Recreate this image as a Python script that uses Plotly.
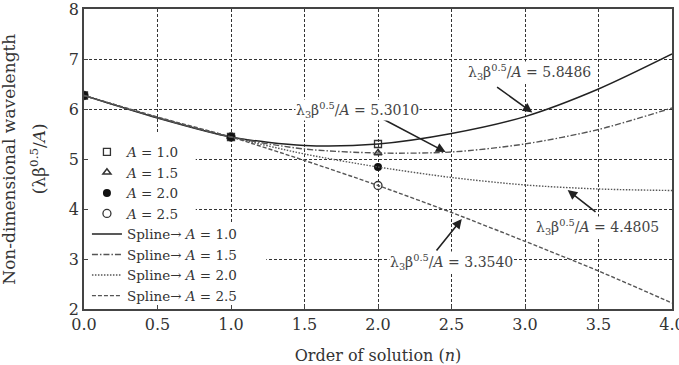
import plotly.graph_objects as go

# ---- data ----
n_pts = [0.0, 1.0, 2.0]
pts_A10 = [6.27, 5.44, 5.30]
pts_A15 = [6.27, 5.44, 5.12]
pts_A20 = [6.27, 5.44, 4.84]
pts_A25 = [6.27, 5.44, 4.47]

n_spl = [0.0, 0.5, 1.0, 1.5, 2.0, 2.5, 3.0, 3.5, 4.0]
spl_A10 = [6.27, 5.82, 5.44, 5.27, 5.30, 5.51, 5.8486, 6.40, 7.10]
spl_A15 = [6.27, 5.83, 5.44, 5.20, 5.12, 5.14, 5.3010, 5.59, 6.02]
spl_A20 = [6.27, 5.83, 5.44, 5.10, 4.84, 4.63, 4.4805, 4.40, 4.37]
spl_A25 = [6.27, 5.84, 5.44, 4.97, 4.47, 3.93, 3.3540, 2.76, 2.12]

x_ticks = [0.0, 0.5, 1.0, 1.5, 2.0, 2.5, 3.0, 3.5, 4.0]
x_ticklabels = ["0.0", "0.5", "1.0", "1.5", "2.0", "2.5", "3.0", "3.5", "4.0"]
y_ticks = [2, 3, 4, 5, 6, 7, 8]

# annotations: (label, text_x, text_y, tail_x, tail_y, head_x, head_y)
notes = [
    ("5.8486", 3.03, 6.74, 2.80, 6.46, 3.05, 5.93),
    ("5.3010", 1.86, 5.98, 2.02, 5.82, 2.46, 5.14),
    ("4.4805", 3.49, 3.64, 3.49, 3.92, 3.29, 4.38),
    ("3.3540", 2.50, 2.94, 2.39, 3.14, 2.57, 3.80),
]

FONT = "DejaVu Serif"
INK = "#333333"

fig = go.Figure()

def lab(a):
    return "<i>A</i> = " + a

fig.add_trace(go.Scatter(x=n_pts, y=pts_A10, mode="markers", name=lab("1.0"),
                         marker=dict(symbol="square-open", size=7, color=INK, line=dict(width=1.3))))
fig.add_trace(go.Scatter(x=n_pts, y=pts_A15, mode="markers", name=lab("1.5"),
                         marker=dict(symbol="triangle-up-open", size=7, color=INK, line=dict(width=1.5))))
fig.add_trace(go.Scatter(x=n_pts, y=pts_A25, mode="markers", name=lab("2.5"),
                         marker=dict(symbol="circle-open", size=8, color=INK, line=dict(width=1.3)),
                         legendrank=1004))
fig.add_trace(go.Scatter(x=n_pts, y=pts_A20, mode="markers", name=lab("2.0"),
                         marker=dict(symbol="circle", size=8, color="#111111"), legendrank=1003))

spl = [(spl_A10, "solid", "1.0"), (spl_A15, "6px,2px,1.5px,2px", "1.5"),
       (spl_A20, "1.5px,1.5px", "2.0"), (spl_A25, "4px,2px", "2.5")]
for i, (ys, dash, a) in enumerate(spl):
    fig.add_trace(go.Scatter(x=n_spl, y=ys, mode="lines", name="Spline\u2192 " + lab(a),
                             line=dict(color="#555555" if dash != "solid" else "#222222", width=1.4,
                                       dash=dash, shape="spline", smoothing=0.8),
                             legendrank=1010 + i))

for (val, tx, ty, axx, ayy, hx, hy) in notes:
    fig.add_annotation(x=hx, y=hy, ax=axx, ay=ayy, axref="x", ayref="y", xref="x", yref="y",
                       text="", showarrow=True, arrowhead=2, arrowsize=1.2, arrowwidth=1.6,
                       arrowcolor="#222222")
    fig.add_annotation(x=tx, y=ty, xref="x", yref="y", showarrow=False,
                       text="\u03bb<sub>3</sub>\u03b2<sup>0.5</sup>/<i>A</i> = " + val,
                       font=dict(family=FONT, size=14, color="#444444"), bgcolor="white",
                       borderpad=0)

# white backing behind the legend (covers the grid only)
fig.add_shape(type="rect", xref="x", yref="y", x0=0.01, x1=0.76, y0=3.74, y1=5.54,
              fillcolor="white", line=dict(width=0), layer="between")
fig.add_shape(type="rect", xref="x", yref="y", x0=0.01, x1=1.24, y0=2.01, y1=3.74,
              fillcolor="white", line=dict(width=0), layer="between")

fig.add_annotation(text="Non-dimensional wavelength", textangle=-90, xref="paper", yref="paper",
                   x=-0.128, y=0.5, xanchor="center", yanchor="middle", showarrow=False,
                   font=dict(family=FONT, size=17, color="#333333"))
fig.add_annotation(text="(\u03bb\u03b2<sup>0.5</sup>/<i>A</i>)", textangle=-90, xref="paper", yref="paper",
                   x=-0.078, y=0.5, xanchor="center", yanchor="middle", showarrow=False,
                   font=dict(family=FONT, size=17, color="#333333"))

axis_common = dict(showline=True, linecolor="#444444", linewidth=1.6, mirror=True,
                   ticks="inside", ticklen=4, tickcolor="#444444",
                   showgrid=True, gridcolor="#333333", griddash="3px,2px", gridwidth=1.2,
                   zeroline=False, ticklabeloverflow="allow", automargin=False,
                   tickfont=dict(family=FONT, size=16, color="#333333"))

fig.update_xaxes(range=[0, 4], tickvals=x_ticks, ticktext=x_ticklabels,
                 title=dict(text="Order of solution (<i>n</i>)", font=dict(family=FONT, size=16, color="#333333"),
                            standoff=24), **axis_common)
fig.update_yaxes(range=[2, 8], tickvals=y_ticks, **axis_common)

fig.update_layout(
    width=679, height=365, margin=dict(l=84, r=7, t=9, b=56),
    plot_bgcolor="white", paper_bgcolor="white",
    font=dict(family=FONT, color="#333333"),
    legend=dict(x=0.005, y=0.575, xanchor="left", yanchor="top", bgcolor="rgba(0,0,0,0)",
                font=dict(family=FONT, size=13.5, color="#333333"), tracegroupgap=0,
                itemwidth=30),
)

fig.write_html("out.html")
